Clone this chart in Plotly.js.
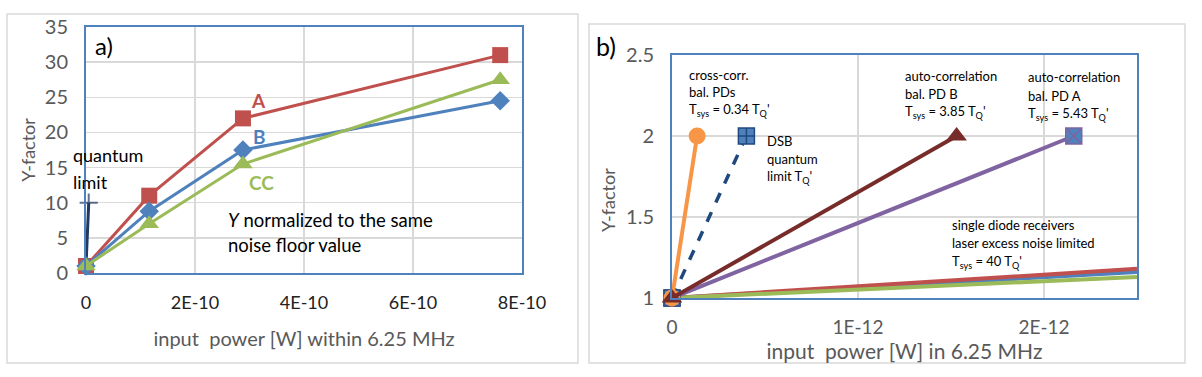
<!DOCTYPE html>
<html>
<head>
<meta charset="utf-8">
<script src="https://cdn.plot.ly/plotly-3.0.1.min.js"></script>
<style>
  html, body { margin: 0; padding: 0; background: #fff; }
  #chart { width: 1202px; height: 377px; }
</style>
</head>
<body>
<div id="chart"></div>
<script>
// ---- panel a) data ----
const powerA = [0, 1.16e-10, 2.88e-10, 7.6e-10];
const yfactorA = [1, 11, 22, 31];
const yfactorB = [1, 8.8, 17.5, 24.5];
const yfactorCC = [1, 7, 15.5, 27.5];
const quantumX = [0, 5e-12];
const quantumY = [1, 10];
const ticksA = [0, 2e-10, 4e-10, 6e-10, 8e-10];
const tickTextA = ["0", "2E-10", "4E-10", "6E-10", "8E-10"];

// ---- panel b) data ----
const crossX = [0, 0.135e-12];
const dsbX = [0, 0.4e-12];
const autoBX = [0, 1.53e-12];
const autoAX = [0, 2.16e-12];
const oneToTwo = [1, 2];
const singleX = [0, 2.5e-12];
const singleRed = [1, 1.18];
const singleBlue = [1, 1.16];
const singleGreen = [1, 1.13];
const ticksB = [0, 1e-12, 2e-12];
const tickTextB = ["0", "1E-12", "2E-12"];

const W = 1202, H = 377;
const FONT = "Lato, 'Open Sans', sans-serif";
const RED = "#c0504d", BLUE = "#4f81bd", GREEN = "#9bbb59";
const ORANGE = "#f79646", PURPLE = "#8064a2", DARKRED = "#772c2a", NAVY = "#1f497d";
const GRAY = "#595959";

// pixel -> paper helpers
const px = v => v / W;
const py = v => 1 - v / H;

function note(text, x, y, opts = {}) {
  return Object.assign({
    xref: "paper", yref: "paper", x: px(x), y: py(y),
    xanchor: "left", yanchor: "middle", showarrow: false, align: "left",
    text: text, font: { family: FONT, size: 13, color: "#000" }
  }, opts);
}

const traces = [
  // panel a
  { x: quantumX, y: quantumY, xaxis: "x", yaxis: "y", mode: "lines+markers", cliponaxis: false,
    line: { color: "#1f3864", width: 3 },
    marker: { symbol: "cross-thin", size: [0, 13], line: { color: "#1f3864", width: 2 } } },
  { x: powerA, y: yfactorA, xaxis: "x", yaxis: "y", mode: "lines+markers", cliponaxis: false,
    line: { color: RED, width: 3 }, marker: { symbol: "square", size: 16, color: RED } },
  { x: powerA, y: yfactorB, xaxis: "x", yaxis: "y", mode: "lines+markers", cliponaxis: false,
    line: { color: BLUE, width: 3 }, marker: { symbol: "diamond", size: 15, color: BLUE } },
  { x: powerA, y: yfactorCC, xaxis: "x", yaxis: "y", mode: "lines+markers", cliponaxis: false,
    line: { color: GREEN, width: 3 }, marker: { symbol: "triangle-up", size: 17, color: GREEN } },

  // panel b
  { x: singleX, y: singleBlue, xaxis: "x2", yaxis: "y2", mode: "lines",
    line: { color: BLUE, width: 4 } },
  { x: singleX, y: singleRed, xaxis: "x2", yaxis: "y2", mode: "lines",
    line: { color: RED, width: 4 } },
  { x: singleX, y: singleGreen, xaxis: "x2", yaxis: "y2", mode: "lines",
    line: { color: GREEN, width: 4 } },
  { x: autoAX, y: oneToTwo, xaxis: "x2", yaxis: "y2", mode: "lines+markers", cliponaxis: false,
    line: { color: PURPLE, width: 4 },
    marker: { symbol: "square-x", size: 16, color: BLUE, line: { color: PURPLE, width: 1.5 } } },
  { x: dsbX, y: oneToTwo, xaxis: "x2", yaxis: "y2", mode: "lines+markers", cliponaxis: false,
    line: { color: NAVY, width: 3.5, dash: "dash" },
    marker: { symbol: "square-cross", size: 16, color: BLUE, line: { color: NAVY, width: 1.5 } } },
  { x: crossX, y: oneToTwo, xaxis: "x2", yaxis: "y2", mode: "lines+markers", cliponaxis: false,
    line: { color: ORANGE, width: 4 }, marker: { symbol: "circle", size: 17, color: ORANGE } },
  { x: autoBX, y: oneToTwo, xaxis: "x2", yaxis: "y2", mode: "lines+markers", cliponaxis: false,
    line: { color: DARKRED, width: 4 }, marker: { symbol: "triangle-up", size: 18, color: DARKRED } }
];

const axisCommon = {
  showgrid: true, gridcolor: "#d9d9d9", gridwidth: 1.5,
  showline: true, linecolor: BLUE, linewidth: 2, mirror: true,
  zeroline: false, ticks: "", fixedrange: true
};

const layout = {
  width: W, height: H,
  margin: { l: 0, r: 0, t: 0, b: 0 },
  paper_bgcolor: "#fff", plot_bgcolor: "#fff",
  showlegend: false,
  font: { family: FONT },
  xaxis: Object.assign({}, axisCommon, {
    domain: [px(86), px(522)], anchor: "y",
    range: [0, 8e-10], tickvals: ticksA, ticktext: tickTextA,
    tickfont: { size: 18, color: "#222" }, ticklabelstandoff: 12,
    title: { text: "input  power [W] within 6.25 MHz", font: { size: 20, color: GRAY }, standoff: 20 }
  }),
  yaxis: Object.assign({}, axisCommon, {
    domain: [py(273), py(27)], anchor: "x",
    range: [0, 35], dtick: 5,
    tickfont: { size: 20, color: GRAY }, ticklabelstandoff: 12,
    title: { text: "Y-factor", font: { size: 18, color: GRAY }, standoff: 4 }
  }),
  xaxis2: Object.assign({}, axisCommon, {
    domain: [px(672), px(1137)], anchor: "y2",
    range: [0, 2.5e-12], tickvals: ticksB, ticktext: tickTextB,
    tickfont: { size: 19, color: GRAY }, ticklabelstandoff: 11,
    title: { text: "input  power [W] in 6.25 MHz", font: { size: 21, color: GRAY }, standoff: 0 }
  }),
  yaxis2: Object.assign({}, axisCommon, {
    domain: [py(298), py(55)], anchor: "x2",
    range: [1, 2.5], dtick: 0.5,
    tickfont: { size: 20, color: GRAY }, ticklabelstandoff: 12
  }),
  shapes: [
    { type: "rect", xref: "paper", yref: "paper", x0: px(7), x1: px(578), y0: py(363), y1: py(14),
      line: { color: "#d9d9d9", width: 1.5 }, layer: "below" },
    { type: "rect", xref: "paper", yref: "paper", x0: px(589), x1: px(1185), y0: py(363), y1: py(24),
      line: { color: "#d9d9d9", width: 1.5 }, layer: "below" }
  ],
  annotations: [
    // panel a
    note("a)", 93, 46, { font: { family: FONT, size: 24, color: "#000" } }),
    note("quantum", 71, 155, { font: { family: FONT, size: 18, color: "#000" } }),
    note("limit", 71, 182, { font: { family: FONT, size: 18, color: "#000" } }),
    note("<b>A</b>", 258, 100, { xanchor: "center", font: { family: FONT, size: 19, color: RED } }),
    note("<b>B</b>", 259, 136, { xanchor: "center", font: { family: FONT, size: 19, color: BLUE } }),
    note("<b>CC</b>", 261, 182, { xanchor: "center", font: { family: FONT, size: 19, color: GREEN } }),
    note("<i>Y</i> normalized to the same", 226, 220, { font: { family: FONT, size: 18.5, color: "#000" } }),
    note("noise floor value", 226, 245, { font: { family: FONT, size: 18.5, color: "#000" } }),

    // panel b
    note("b)", 594, 46, { font: { family: FONT, size: 25, color: "#000" } }),
    note("Y-factor", 608, 200, { xanchor: "center", textangle: -90, font: { family: FONT, size: 18, color: GRAY } }),
    note("cross-corr.", 687, 75),
    note("bal. PDs", 687, 92),
    note("T<sub>sys</sub> = 0.34 T<sub>Q</sub>'", 687, 110),
    note("DSB", 765, 141),
    note("quantum", 765, 159),
    note("limit T<sub>Q</sub>'", 765, 177),
    note("auto-correlation", 903, 76),
    note("bal. PD B", 903, 94),
    note("T<sub>sys</sub> = 3.85 T<sub>Q</sub>'", 903, 112),
    note("auto-correlation", 1026, 77),
    note("bal. PD A", 1026, 96),
    note("T<sub>sys</sub> = 5.43 T<sub>Q</sub>'", 1026, 114),
    note("single diode receivers", 950, 225),
    note("laser excess noise limited", 950, 243),
    note("T<sub>sys</sub> = 40 T<sub>Q</sub>'", 950, 262)
  ]
};

Plotly.newPlot("chart", traces, layout, { staticPlot: true, displayModeBar: false });
</script>
</body>
</html>
